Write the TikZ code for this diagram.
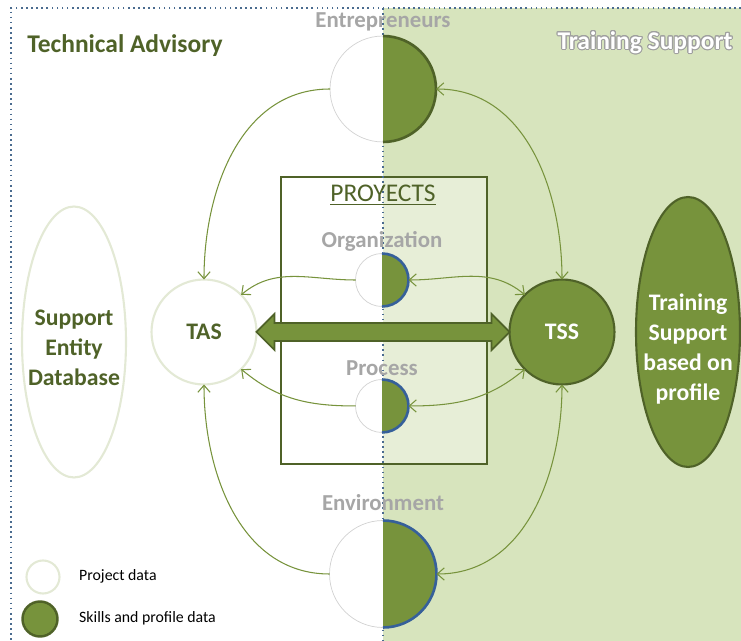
\documentclass[tikz,border=0pt]{standalone}
\usepackage{fontspec}
\setmainfont{Carlito}
\usepackage{contour}
\usetikzlibrary{arrows.meta,calc,shapes.geometric}

\definecolor{darkgreen}{HTML}{4F6228}
\definecolor{midgreen}{HTML}{77933C}
\definecolor{bggreen}{HTML}{D7E4BD}
\definecolor{labelgray}{HTML}{A6A6A6}
\definecolor{bordblue}{HTML}{36609A}
\definecolor{paleline}{HTML}{E3E9D5}
\definecolor{dotblue}{HTML}{4A6B8F}
\contourlength{0.6pt}

\begin{document}
\begin{tikzpicture} [x=0.02cm, y=-0.02cm, >={Straight Barb[length=4pt,width=7pt]}, half/.style={circle, draw=gray!35, fill=white, line width=0.4pt, inner sep=0pt, outer sep=0pt}, hub/.style={circle, minimum size=2.1cm, line width=1.2pt, outer sep=0pt, font=\fontsize{13.5}{16}\selectfont\bfseries}, topic/.style={font=\fontsize{13}{15}\selectfont\bfseries, text=labelgray}, bigtext/.style={font=\fontsize{13.5}{17}\selectfont\bfseries, align=center}, flow/.style={draw=midgreen, line width=0.6pt}, borderdot/.style={draw=dotblue, line width=0.9pt, dotted}]

	\useasboundingbox (0,0) rectangle (741,641);

	% areas
	\fill [bggreen] (383,8) rectangle (741,641);
	\node [draw=darkgreen, line width=1.4pt, fill=white, fill opacity=0.4, minimum width=4.12cm, minimum height=5.74cm] (proj) at (384,320.5) {};
	\draw [borderdot] (741,8) -- (11,8) -- (11,641);
	\draw [borderdot] (383,8) -- (383,641);

	% titles
	\node [font=\fontsize{14.5}{17}\selectfont\bfseries, text=darkgreen] (tech_title) at (125,46) {Technical Advisory};
	\node [font=\fontsize{14.5}{17}\selectfont\bfseries, text=white] (train_title) at (645,43) {\contour{gray!75}{Training Support}};
	\node [font=\fontsize{14.5}{17}\selectfont, text=darkgreen] (proj_title) at (383,195) {\underline{PROYECTS}};

	% data circles
	\node [half, minimum size=2.12cm] (entr) at (383,89) {};
	\node [topic, above of=entr, node distance=1.34cm] (entr_label) {Entrepreneurs};
	\node [half, minimum size=1.06cm] (org) at (382,280) {};
	\node [topic, above of=org, node distance=0.78cm] (org_label) {Organization};
	\node [half, minimum size=1.06cm, below of=org, node distance=2.52cm] (proc) {};
	\node [topic, above of=proc, node distance=0.76cm] (proc_label) {Process};
	\node [half, minimum size=2.14cm] (env) at (383,574) {};
	\node [topic, above of=env, node distance=1.43cm] (env_label) {Environment};
	\foreach \s/\r/\c in {entr/1.06cm/darkgreen, org/0.53cm/bordblue, proc/0.53cm/bordblue, env/1.07cm/bordblue}
		\draw [fill=midgreen, draw=\c, line width=1.5pt] (\s.north) arc [start angle=90, end angle=-90, radius=\r];

	% systems
	\node [hub, draw=paleline, fill=white, text=darkgreen] (tas) at (204,332) {TAS};
	\node [hub, draw=darkgreen, fill=midgreen, text=white] (tss) at (562,332) {TSS};
	\node [ellipse, draw=paleline, line width=1.2pt, minimum width=2.08cm, minimum height=5.42cm] (sedb) at (74,342) {};
	\node [bigtext, text=darkgreen, below of=sedb, node distance=0.12cm] (sedb_text) {Support\\Entity\\Database};
	\node [ellipse, draw=darkgreen, fill=midgreen, line width=1.2pt, minimum width=2.08cm, minimum height=5.4cm] (tsp) at (688,332) {};
	\node [bigtext, text=white, below of=tsp, node distance=0.34cm] (tsp_text) {Training\\Support\\based on\\profile};

	% draw edges
	\draw [flow, ->] (entr.west) to [out=180, in=90] (tas.north);
	\draw [flow, <->] (entr.east) to [out=0, in=90] (tss.north);
	\draw [flow, ->] (org.west) to [out=180, in=40] (tas.north east);
	\draw [flow, <->] (org.east) to [out=0, in=140] (tss.north west);
	\draw [flow, ->] (proc.west) to [out=180, in=-40] (tas.south east);
	\draw [flow, <->] (proc.east) to [out=0, in=-140] (tss.south west);
	\draw [flow, ->] (env.west) to [out=180, in=-90] (tas.south);
	\draw [flow, <->] (env.east) to [out=0, in=-90] (tss.south);

	% link between the two systems
	\draw [fill=midgreen, draw=darkgreen, line width=1pt] let \p1=(tas.east), \p2=(tss.west) in (\x1,\y1) -- (\x1+10.2pt,\y1+10.2pt) -- (\x1+10.2pt,\y1+5.1pt) -- (\x2-10.2pt,\y1+5.1pt) -- (\x2-10.2pt,\y1+10.2pt) -- (\x2,\y2) -- (\x2-10.2pt,\y1-10.2pt) -- (\x2-10.2pt,\y1-5.1pt) -- (\x1+10.2pt,\y1-5.1pt) -- (\x1+10.2pt,\y1-10.2pt) -- cycle;

	% legend
	\node [circle, draw=paleline, line width=1.2pt, minimum size=0.66cm] (key_project) at (43,577) {};
	\node [anchor=west, font=\fontsize{9}{11}\selectfont] (key_project_text) at (73,576) {Project data};
	\node [circle, draw=darkgreen, fill=midgreen, line width=1.4pt, minimum size=0.7cm] (key_skills) at (40,619) {};
	\node [anchor=west, font=\fontsize{9}{11}\selectfont] (key_skills_text) at (73,618) {Skills and profile data};
\end{tikzpicture}
\end{document}
